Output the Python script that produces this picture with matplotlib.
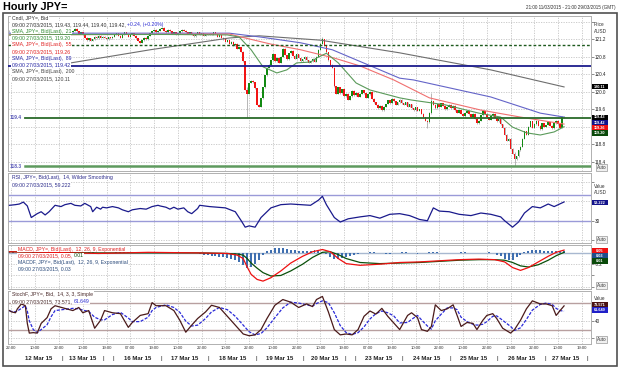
import matplotlib.pyplot as plt
import numpy as np

W, H = 619, 369

# calendar days on the bar axis (hourly bars, weekend hours removed)
day_labels = ['', '12 Mar 15', '13 Mar 15', '', '16 Mar 15', '17 Mar 15', '18 Mar 15',
              '19 Mar 15', '20 Mar 15', '', '23 Mar 15', '24 Mar 15', '25 Mar 15',
              '26 Mar 15', '27 Mar 15']
day_bars = [3, 24, 21, 5, 24, 24, 24, 24, 21, 5, 24, 24, 24, 24, 21]

tick_labels = ['22:00', '10:00', '22:00', '10:00', '19:00', '07:00', '19:00', '10:00',
               '22:00', '10:00', '22:00', '10:00', '22:00', '10:00', '19:00', '07:00',
               '19:00', '10:00', '22:00', '10:00', '22:00', '10:00', '22:00', '10:00', '19:00']

# hourly closes, 21:00 11 Mar -> 09:00 27 Mar
closes = [
    121.40, 121.36, 121.38,
    121.35, 121.30, 121.26, 121.22, 121.28, 121.33, 121.30, 121.36, 121.42, 121.38, 121.32, 121.28,
    121.24, 121.30, 121.35, 121.40, 121.44, 121.38, 121.33, 121.36, 121.40, 121.37, 121.34, 121.36,
    121.38, 121.42, 121.45, 121.40, 121.36, 121.40, 121.44, 121.38, 121.32, 121.36, 121.30, 121.24,
    121.18, 121.22, 121.16, 121.20, 121.26, 121.22, 121.28, 121.24, 121.26,
    121.24, 121.20, 121.25, 121.22, 121.26,
    121.30, 121.34, 121.28, 121.24, 121.30, 121.36, 121.32, 121.26, 121.30, 121.34, 121.28, 121.22,
    121.16, 121.12, 121.18, 121.24, 121.20, 121.28, 121.34, 121.38, 121.42, 121.36, 121.40, 121.44,
    121.46, 121.40, 121.36, 121.42, 121.38, 121.33, 121.36, 121.30, 121.34, 121.38, 121.42, 121.40,
    121.36, 121.32, 121.36, 121.30, 121.27, 121.32, 121.36, 121.30, 121.34, 121.28, 121.32, 121.30,
    121.33, 121.30, 121.36, 121.32, 121.26, 121.30, 121.24, 121.20, 121.14, 121.18, 121.10, 121.14,
    121.06, 121.10, 120.98, 121.02, 120.92, 120.70, 120.05, 119.95, 120.20, 120.25, 120.22, 120.08,
    119.70, 119.66, 119.85, 120.10, 120.38, 120.55, 120.62, 120.72, 120.86, 120.70, 120.78, 120.66,
    120.80, 120.98, 120.84, 120.74, 120.88, 120.94, 120.82, 120.76, 120.86, 120.78, 120.70, 120.74,
    120.80, 120.72, 120.66, 120.70, 120.76, 120.68, 120.80, 120.96, 121.10, 121.20, 121.05, 120.90,
    120.72, 120.62, 120.55, 120.12, 119.95, 120.10, 119.96, 120.06, 119.90,
    119.95, 119.82, 119.90, 120.02, 119.92,
    119.98, 119.88, 119.95, 120.04, 119.96, 119.86, 119.94, 120.00, 119.84, 119.76, 119.70, 119.62,
    119.68, 119.58, 119.66, 119.72, 119.80, 119.74, 119.84, 119.78, 119.70, 119.76, 119.82, 119.74,
    119.70, 119.76, 119.66, 119.72, 119.62, 119.58, 119.64, 119.56, 119.60, 119.50, 119.42, 119.34,
    119.30, 119.52, 119.78, 119.70, 119.62, 119.72, 119.66, 119.74, 119.68, 119.60, 119.66, 119.70,
    119.62, 119.68, 119.58, 119.52, 119.58, 119.50, 119.44, 119.52, 119.56, 119.48, 119.42, 119.50,
    119.38, 119.28, 119.34, 119.46, 119.56, 119.50, 119.42, 119.36, 119.44, 119.50, 119.40, 119.32,
    119.38, 119.26, 119.18, 119.02, 118.88, 118.92, 118.70, 118.58, 118.45, 118.52, 118.66, 118.74,
    118.92, 119.10, 119.02, 119.20, 119.32, 119.18, 119.26, 119.34, 119.22, 119.14, 119.28, 119.20,
    119.24, 119.30, 119.22, 119.16, 119.28, 119.34, 119.26, 119.18, 119.43, 119.42,
]
first_open = 121.38

# long wicks (bar, low, high)
wick_bar = [120, 158, 211, 213, 255]
wick_low = [119.40, 121.10, 119.18, 119.50, 118.30]
wick_high = [120.10, 121.25, 119.35, 119.97, 118.60]

# moving averages, read as vertices (bar, price)
sma21_bar = [0, 40, 80, 110, 116, 122, 128, 135, 140, 145, 152, 155, 160, 166, 175, 182, 197, 203, 220, 237, 248, 254, 261, 268, 275, 280]
sma21_val = [121.30, 121.31, 121.31, 121.30, 121.25, 120.96, 120.57, 120.43, 120.50, 120.66, 120.68, 120.77, 120.88, 120.66, 120.20, 120.04, 119.86, 119.81, 119.70, 119.51, 119.42, 119.19, 119.06, 119.01, 119.08, 119.20]
sma55_bar = [0, 111, 119, 132, 147, 164, 177, 194, 212, 238, 258, 280]
sma55_val = [121.30, 121.32, 121.23, 121.09, 120.96, 120.77, 120.59, 120.27, 119.86, 119.58, 119.42, 119.26]
sma89_bar = [0, 111, 127, 147, 163, 197, 204, 243, 268, 280]
sma89_val = [121.34, 121.34, 121.25, 121.12, 120.96, 120.31, 120.27, 119.88, 119.51, 119.42]
sma200_bar = [31, 71, 111, 126, 157, 197, 243, 280]
sma200_val = [120.66, 120.96, 121.23, 121.28, 121.18, 120.89, 120.50, 120.11]

# RSI 14 (bar, value)
rsi_bar = [0, 3, 5, 7, 9, 10, 11, 13, 14, 16, 18, 20, 23, 26, 28, 31, 33, 36, 38, 41, 42, 44, 46, 47, 49, 52, 55, 57, 60, 62,
           66, 69, 72, 75, 76, 79, 81, 83, 85, 88, 90, 92, 95, 96, 101, 109, 114, 117, 119, 121, 124, 127, 132, 137, 142, 147,
           152, 156, 158, 160, 164, 167, 171, 177, 182, 187, 192, 197, 202, 207, 211, 214, 217, 222, 227, 233, 238, 243, 248,
           250, 254, 257, 260, 264, 268, 272, 275, 280]
rsi_val = [54, 55, 56, 59, 53, 44, 35, 39, 41, 44, 39, 44, 54, 52, 55, 57, 54, 53, 57, 52, 44, 51, 48, 51, 50, 52, 50, 47,
           44, 47, 49, 48, 52, 54, 53, 51, 48, 51, 48, 50, 44, 41, 49, 54, 52, 50, 44, 30, 20, 22, 20, 35, 50, 55, 56, 55, 54,
           62, 68, 55, 35, 28, 33, 36, 38, 34, 40, 41, 38, 32, 30, 50, 45, 44, 40, 38, 42, 40, 36, 30, 20, 28, 42, 52, 50, 56,
           52, 59.2]

# MACD 12/26/9 (bar, macd, signal)
macd_bar = [0, 20, 45, 70, 95, 110, 115, 118, 120, 122, 125, 128, 132, 137, 142, 148, 153, 158, 162, 166, 170, 177, 187,
            197, 207, 217, 227, 237, 245, 250, 254, 258, 262, 267, 272, 276, 280]
macd_val = [0.02, 0.01, -0.01, 0.01, 0.00, -0.01, -0.04, -0.10, -0.25, -0.38, -0.47, -0.50, -0.44, -0.32, -0.18, -0.06,
            0.02, 0.06, 0.02, -0.10, -0.19, -0.22, -0.20, -0.17, -0.16, -0.14, -0.12, -0.11, -0.12, -0.16, -0.26, -0.31,
            -0.26, -0.16, -0.06, 0.01, 0.05]
sig_val = [0.02, 0.01, 0.00, 0.00, 0.00, -0.01, -0.02, -0.04, -0.10, -0.18, -0.27, -0.35, -0.41, -0.40, -0.32, -0.20,
           -0.08, 0.01, 0.02, -0.03, -0.10, -0.17, -0.19, -0.18, -0.17, -0.15, -0.13, -0.12, -0.12, -0.13, -0.17, -0.23,
           -0.25, -0.21, -0.13, -0.05, 0.01]
# MACDF histogram, every second bar from bar 0
hist_val = [
    0.01, 0.01, 0.00, -0.01, -0.01, 0.00, 0.01, 0.01, 0.00, -0.01, -0.01, -0.02, -0.01, 0.00, 0.01, 0.01,
    0.00, 0.00, -0.01, 0.00, 0.01, 0.01, 0.00, -0.01, -0.01, -0.01, 0.00, 0.01, 0.02, 0.01, 0.01, 0.00,
    0.00, 0.01, 0.01, 0.00, -0.01, 0.00, 0.01, 0.02, 0.02, 0.01, 0.00, 0.00, -0.01, -0.01, 0.00, -0.01,
    -0.02, -0.03, -0.04, -0.05, -0.06, -0.07, -0.08, -0.09, -0.10, -0.12, -0.16, -0.22,
    -0.26, -0.25, -0.20, -0.12, -0.04, 0.03,
    0.06, 0.08, 0.09, 0.08, 0.07, 0.06, 0.05, 0.04, 0.03, 0.03, 0.04, 0.05, 0.04,
    0.02, -0.02, -0.07, -0.10, -0.11, -0.09, -0.07, -0.05, -0.03, -0.02,
    -0.01, 0.00, 0.01, 0.01, 0.00, -0.01, -0.02, -0.02, -0.01, 0.00, 0.01, 0.01, 0.00, -0.01, -0.02, -0.01,
    0.00, 0.01, 0.02, 0.01, 0.00, 0.00, -0.01, -0.01, 0.00, 0.01, 0.01, 0.00, -0.01, -0.01, 0.00, 0.00,
    0.01, 0.00,
    -0.03, -0.06, -0.10, -0.13, -0.12, -0.08, -0.03, 0.02, 0.04,
    0.05, 0.05, 0.05, 0.04, 0.04, 0.04, 0.03, 0.03, 0.03,
]

# Stochastic 14,3,3 (bar, %K, %D)
stoch_bar = [0, 1, 3, 4, 6, 8, 9, 10, 12, 14, 16, 19, 21, 23, 32, 35, 37, 40, 43, 46, 48, 52, 56, 60, 62, 66, 70, 72,
             74, 79, 83, 86, 89, 92, 95, 99, 102, 106, 110, 114, 118, 121, 124, 127, 130, 134, 138, 142, 146, 150, 153,
             155, 158, 161, 164, 167, 170, 173, 176, 179, 182, 185, 188, 191, 194, 197, 201, 203, 206, 208, 211, 213, 215,
             218, 221, 224, 226, 228, 231, 234, 236, 239, 241, 244, 246, 249, 253, 255, 258, 261, 264, 268, 271, 274, 276,
             278, 280]
stoch_k = [63, 60, 58, 67, 78, 74, 34, 12, 13, 12, 34, 47, 67, 74, 63, 70, 58, 63, 23, 41, 63, 58, 56, 25, 36, 52, 56,
           81, 74, 74, 63, 41, 14, 30, 45, 60, 75, 70, 50, 30, 10, 6, 8, 20, 45, 75, 88, 82, 70, 78, 72, 88, 95, 60, 20,
           8, 10, 8, 20, 50, 62, 55, 68, 50, 35, 20, 52, 58, 47, 20, 16, 27, 76, 63, 67, 76, 52, 27, 36, 34, 20, 41, 52,
           56, 45, 23, 12, 20, 41, 67, 85, 78, 78, 74, 52, 63, 73.6]
stoch_d = [62, 61, 60, 62, 68, 74, 62, 40, 20, 13, 20, 31, 49, 63, 68, 67, 64, 61, 48, 42, 42, 54, 59, 46, 38, 38, 48,
           63, 70, 76, 70, 59, 39, 28, 30, 45, 60, 70, 65, 50, 30, 15, 8, 11, 24, 47, 69, 82, 80, 76, 73, 79, 85, 81, 58,
           29, 13, 9, 13, 26, 44, 56, 62, 58, 51, 35, 36, 43, 52, 42, 28, 21, 40, 55, 69, 69, 65, 48, 38, 32, 30, 32, 38,
           50, 51, 41, 27, 18, 24, 43, 64, 77, 80, 77, 68, 63, 61.6]


def rect(x0, y0, x1, y1):
    return [x0 / W, 1 - y1 / H, (x1 - x0) / W, (y1 - y0) / H]


plt.rcParams['font.family'] = ['Liberation Sans', 'DejaVu Sans']
fig = plt.figure(figsize=(W / 100, H / 100), dpi=100)
renderer = fig.canvas.get_renderer()

n = len(closes)
bars = np.arange(n)
opens = np.array([first_open] + closes[:-1])
cl = np.array(closes)
tick_pos = np.arange(len(tick_labels)) * 12 + 1
xmin, xmax = -0.75, 293.6
grid_kw = dict(color='#c4c4c4', lw=0.6, ls=(0, (1.5, 1.5)))
white = dict(facecolor='white', edgecolor='none', pad=0.4)
LEG = 3.7

ax_p = fig.add_axes(rect(8, 16, 591, 171))
ax_r = fig.add_axes(rect(8, 173, 591, 243))
ax_m = fig.add_axes(rect(8, 245, 591, 289))
ax_s = fig.add_axes(rect(8, 291, 591, 344))

for ax in (ax_p, ax_r, ax_m, ax_s):
    ax.set_xlim(xmin, xmax)
    for sp in ax.spines.values():
        sp.set_color('#b0b0b0')
        sp.set_linewidth(0.7)
    ax.set_xticks(tick_pos)
    ax.tick_params(axis='x', length=0, labelbottom=False)
    ax.yaxis.tick_right()
    ax.tick_params(axis='y', length=2, width=0.5, color='#606060', labelsize=3.3, pad=1, labelcolor='#202020')
    for t in tick_pos:
        ax.axvline(t, zorder=0, **grid_kw)


def legend(y_rows, pieces, x0=12):
    # pieces: list of rows, each row a list of (text, colour)
    for y, row in zip(y_rows, pieces):
        x = x0
        for s, c in row:
            t = fig.text(x / W, 1 - y / H, s, color=c, fontsize=LEG, va='center', ha='left', bbox=white, zorder=10)
            x = t.get_window_extent(renderer).x1


# ---------------- price pane ----------------
ax_p.set_ylim(118.186, 121.733)
p_ticks = np.arange(118.4, 121.7, 0.4)
ax_p.set_yticks(p_ticks)
ax_p.set_yticklabels(['%.1f' % v if v < 121.5 else '' for v in p_ticks])
for v in p_ticks:
    ax_p.axhline(v, zorder=0, **grid_kw)

lo_body = np.minimum(opens, cl)
hi_body = np.maximum(opens, cl)
up = cl >= opens
wlo = lo_body.copy()
whi = hi_body.copy()
for b, l, h in zip(wick_bar, wick_low, wick_high):
    wlo[b] = min(wlo[b], l)
    whi[b] = max(whi[b], h)
ax_p.vlines(bars, wlo - 0.01, whi + 0.01, color='#9a9a9a', lw=0.5, zorder=2)
ax_p.bar(bars, np.maximum(hi_body - lo_body, 0.012), bottom=lo_body, width=0.8,
         color=np.where(up, '#138a13', '#f21414'), lw=0, zorder=3)

ax_p.plot(sma200_bar, sma200_val, color='#6e6e6e', lw=0.8, zorder=4)
ax_p.plot(sma89_bar, sma89_val, color='#6464c8', lw=0.8, zorder=4)
ax_p.plot(sma55_bar, sma55_val, color='#f07070', lw=0.8, zorder=4)
ax_p.plot(sma21_bar, sma21_val, color='#5a9a5a', lw=0.8, zorder=4)

ax_p.axhline(121.07, color='#1e5a1e', lw=1.0, ls=(0, (2, 1.5)), zorder=5)
ax_p.axhline(120.60, color='#1c1c8c', lw=1.3, zorder=5)
ax_p.plot([7.8, xmax], [119.4, 119.4], color='#2a6a2a', lw=1.3, zorder=5)
ax_p.plot([7.8, xmax], [118.3, 118.3], color='#5e9a5e', lw=1.8, zorder=5)
ax_p.text(0.3, 119.4, '119.4', color='#5a5ab8', fontsize=3.6, fontweight='bold', va='center', zorder=6)
ax_p.text(0.3, 118.3, '118.3', color='#5a5ab8', fontsize=3.6, fontweight='bold', va='center', zorder=6)

legend([17.5 + i * 6.8 for i in range(10)], [
    [('Cndl, JPY=, Bid', '#303030')],
    [('09:00 27/03/2015, 119.43, 119.44, 119.40, 119.42, ', '#303030'), ('+0.24, (+0.20%)', '#2a2ad0')],
    [('SMA, JPY=, Bid(Last),  21', '#2e8b2e')],
    [('09:00 27/03/2015, 119.20', '#2e8b2e')],
    [('SMA, JPY=, Bid(Last),  55', '#e02020')],
    [('09:00 27/03/2015, 119.26', '#e02020')],
    [('SMA, JPY=, Bid(Last),  89', '#2020a0')],
    [('09:00 27/03/2015, 119.42', '#2020a0')],
    [('SMA, JPY=, Bid(Last),  200', '#404040')],
    [('09:00 27/03/2015, 120.11', '#404040')],
])

# ---------------- RSI pane ----------------
ax_r.set_ylim(-4.6, 104.2)
ax_r.set_yticks([0, 30, 60, 90])
ax_r.set_yticklabels(['', '30', '', ''])
for v in (0, 60, 90):
    ax_r.axhline(v, zorder=0, **grid_kw)
ax_r.axhline(70, color='#9a9ad8', lw=1.0, zorder=1)
ax_r.axhline(30, color='#9a9ad8', lw=1.0, zorder=1)
ax_r.plot(rsi_bar, rsi_val, color='#1a1a8c', lw=0.9, zorder=3)
legend([177.3, 184.7], [[('RSI, JPY=, Bid(Last),  14, Wilder Smoothing', '#2a2a8a')],
                        [('09:00 27/03/2015, 59.222', '#2a2a8a')]])

# ---------------- MACD pane ----------------
ax_m.set_ylim(-0.64, 0.14)
ax_m.set_yticks([-0.6, -0.4, -0.2, 0.0])
ax_m.set_yticklabels(['', '', '-0.2', ''])
for v in (-0.6, -0.4, -0.2):
    ax_m.axhline(v, zorder=0, **grid_kw)
ax_m.axhline(0, color='#a8b8d0', lw=1.0, zorder=1)
ax_m.bar(np.arange(len(hist_val)) * 2, hist_val, width=1.0, color='#3f6fb0', lw=0, zorder=2)
ax_m.plot(macd_bar, sig_val, color='#0a500a', lw=0.9, zorder=3)
ax_m.plot(macd_bar, macd_val, color='#ee1010', lw=0.9, zorder=4)
legend([249, 255.6, 262.2, 268.8], [
    [('MACD, JPY=, Bid(Last),  12, 26, 9, Exponential', '#e02020')],
    [('09:00 27/03/2015, 0.05, ', '#e02020'), ('0.01', '#0a500a')],
    [('MACDF, JPY=, Bid(Last),  12, 26, 9, Exponential', '#2a4a7a')],
    [('09:00 27/03/2015, 0.03', '#2a4a7a')],
], x0=18)

# ---------------- Stochastic pane ----------------
ax_s.set_ylim(-12.7, 107.3)
ax_s.set_yticks([0, 40, 80])
ax_s.set_yticklabels(['', '40', ''])
for v in (0, 40):
    ax_s.axhline(v, zorder=0, **grid_kw)
ax_s.axhline(80, color='#b8a0a0', lw=1.0, zorder=1)
ax_s.axhline(20, color='#b8a0a0', lw=1.0, zorder=1)
ax_s.plot(stoch_bar, stoch_d, color='#2a2ad8', lw=0.9, ls=(0, (2.5, 1.2)), zorder=3)
ax_s.plot(stoch_bar, stoch_k, color='#4a1a1a', lw=0.9, zorder=4)
legend([294.5, 301.3], [[('StochF, JPY=, Bid,  14, 3, 3, Simple', '#4a2a2a')],
                        [('09:00 27/03/2015, 73.571, ', '#4a2a2a'), ('61.649', '#2a2ad0')]])

# time ticks + day row
for t, lab in zip(tick_pos, tick_labels):
    ax_s.text(t, -0.03, lab, transform=ax_s.get_xaxis_transform(), fontsize=3.1,
              ha='center', va='top', color='#303030')
edges = np.cumsum([0] + day_bars) - 0.5
for i, lab in enumerate(day_labels):
    if lab:
        ax_s.text((edges[i] + edges[i + 1]) / 2, -0.22, lab, transform=ax_s.get_xaxis_transform(),
                  fontsize=4.3, fontweight='bold', ha='center', va='top', color='#202020')
for e in edges[2:]:
    ax_s.text(e, -0.22, '|', transform=ax_s.get_xaxis_transform(), fontsize=4.3,
              ha='center', va='top', color='#202020')


# right-side value boxes
def box(y, s, fc):
    fig.add_artist(plt.Rectangle((592 / W, 1 - (y + 2.65) / H), 16 / W, 5.3 / H, transform=fig.transFigure,
                                 facecolor=fc, edgecolor='none', zorder=12))
    fig.text(600 / W, 1 - y / H, s, fontsize=2.8, color='white', va='center', ha='center',
             fontweight='bold', zorder=13)


box(86.7, '120.11', '#000000')
box(117.2, '119.43', '#000000')
box(122.5, '119.42', '#14148c')
box(127.8, '119.26', '#ee1010')
box(133.1, '119.20', '#0a4a0a')
box(202.5, '59.222', '#14148c')
box(250.5, '0.05', '#ee1010')
box(255.8, '0.03', '#1f4e8c')
box(261.1, '0.01', '#0a4a0a')
box(304.8, '73.571', '#4a1212')
box(310.1, '61.649', '#2020c8')

for y, s in [(24, 'Price'), (31.5, 'AUSD'), (186, 'Value'), (193, 'AUSD'), (298.5, 'Value')]:
    fig.text(594 / W, 1 - y / H, s, fontsize=3.3, color='#303030', va='center', ha='left', zorder=11)
for y in (167.5, 239.5, 285.5, 339.5):
    fig.text(597 / W, 1 - y / H, 'Auto', fontsize=3.3, color='#303030', va='center', ha='left', zorder=11,
             bbox=dict(facecolor='#f0f0f0', edgecolor='#808080', lw=0.4, pad=0.6))

fig.text(3 / W, 1 - 7 / H, 'Hourly JPY=', fontsize=7.8, fontweight='bold', va='center', ha='left')
fig.text(616 / W, 1 - 8 / H, '21:00 11/03/2015 - 21:00 29/03/2015 (GMT)', fontsize=3.3,
         va='center', ha='right', color='#303030')
fig.add_artist(plt.Rectangle((2.5 / W, 1 - 366 / H), 614 / W, 353 / H, transform=fig.transFigure,
                             fill=False, edgecolor='#505050', lw=1.2))

fig.savefig('out.png', dpi=100)
